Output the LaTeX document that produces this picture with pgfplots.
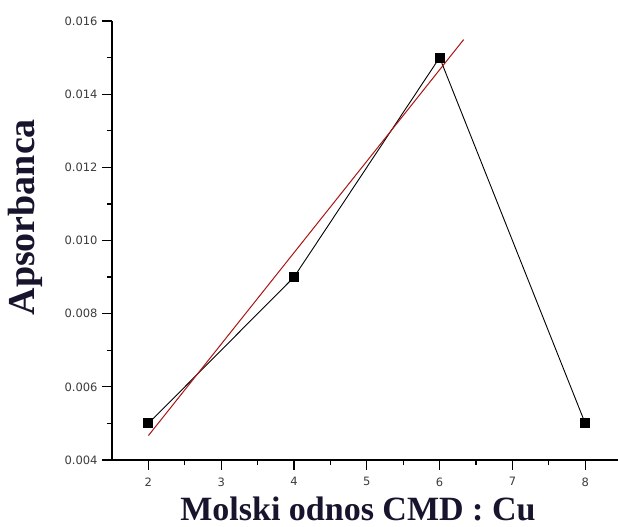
\documentclass[border=0pt]{standalone}
\usepackage{pgfplots}
\pgfplotsset{compat=1.18}
\usepackage{fontspec}
\setmainfont{DejaVu Sans}
\newfontfamily\tnr{Liberation Serif}
\definecolor{lbl}{RGB}{25,20,45}
\definecolor{fitred}{RGB}{170,20,20}
\definecolor{tickgray}{RGB}{60,60,60}
\begin{document}
\begin{tikzpicture}[x=1bp,y=1bp]
\begin{axis}[
  scale only axis,
  width=506bp, height=439bp,
  xmin=1.5, xmax=8.45,
  ymin=0.004, ymax=0.016,
  axis x line=bottom, axis y line=left,
  axis line style={-, line width=1.3bp},
  xtick={2,3,4,5,6,7,8},
  ytick={0.004,0.006,0.008,0.010,0.012,0.014,0.016},
  minor x tick num=1, minor y tick num=1,
  tick align=outside,
  major tick length=10bp, minor tick length=5bp,
  tick style={line width=1.3bp, black},
  scaled y ticks=false,
  yticklabel style={/pgf/number format/fixed, /pgf/number format/fixed zerofill, /pgf/number format/precision=3, xshift=-1bp},
  /pgf/number format/assume math mode=true,
  ticklabel style={font=\fontsize{11.5bp}{13bp}\selectfont, text=tickgray},
  xticklabel style={yshift=-4bp},
  xlabel={Molski odnos CMD : Cu},
  ylabel={Apsorbanca},
  xlabel style={font=\tnr\bfseries\fontsize{34bp}{36bp}\selectfont, text=lbl,
    at={(axis description cs:0.486,-0.137)}, anchor=base},
  ylabel style={font=\tnr\bfseries\fontsize{38bp}{40bp}\selectfont, text=lbl,
    at={(axis description cs:-0.172,0.553)}, anchor=center},
  clip=false,
]
\addplot[black, line width=0.9bp, mark=square*, mark size=4.5bp,
  mark options={solid, fill=black}]
  coordinates {(2,0.005) (4,0.009) (6,0.015) (8,0.005)};
\addplot[fitred, line width=1bp, no marks]
  coordinates {(2,0.004667) (6.33,0.015492)};
\coordinate (SW) at (rel axis cs:0,0);
\coordinate (NE) at (rel axis cs:1,1);
\end{axis}
\pgfresetboundingbox
\path[use as bounding box] ([shift={(-112bp,-67bp)}]SW) rectangle ([shift={(0bp,21bp)}]NE);
\end{tikzpicture}
\end{document}
